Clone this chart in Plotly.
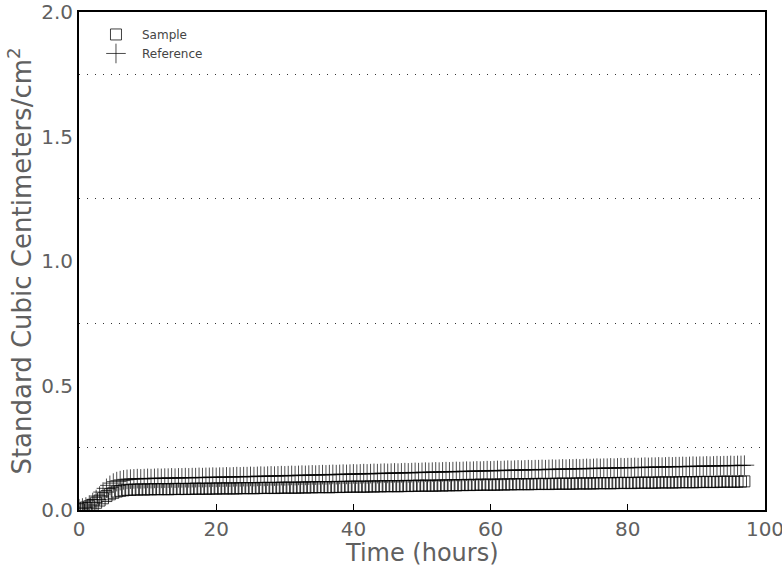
import plotly.graph_objects as go

# Time (hours), sampled every half hour
time_h = [
    0, 0.5, 1, 1.5, 2, 2.5, 3, 3.5, 4, 4.5, 5, 5.5, 6, 6.5, 7, 7.5, 8, 8.5, 9, 9.5,
    10, 10.5, 11, 11.5, 12, 12.5, 13, 13.5, 14, 14.5, 15, 15.5, 16, 16.5, 17, 17.5, 18, 18.5, 19, 19.5,
    20, 20.5, 21, 21.5, 22, 22.5, 23, 23.5, 24, 24.5, 25, 25.5, 26, 26.5, 27, 27.5, 28, 28.5, 29, 29.5,
    30, 30.5, 31, 31.5, 32, 32.5, 33, 33.5, 34, 34.5, 35, 35.5, 36, 36.5, 37, 37.5, 38, 38.5, 39, 39.5,
    40, 40.5, 41, 41.5, 42, 42.5, 43, 43.5, 44, 44.5, 45, 45.5, 46, 46.5, 47, 47.5, 48, 48.5, 49, 49.5,
    50, 50.5, 51, 51.5, 52, 52.5, 53, 53.5, 54, 54.5, 55, 55.5, 56, 56.5, 57, 57.5, 58, 58.5, 59, 59.5,
    60, 60.5, 61, 61.5, 62, 62.5, 63, 63.5, 64, 64.5, 65, 65.5, 66, 66.5, 67, 67.5, 68, 68.5, 69, 69.5,
    70, 70.5, 71, 71.5, 72, 72.5, 73, 73.5, 74, 74.5, 75, 75.5, 76, 76.5, 77, 77.5, 78, 78.5, 79, 79.5,
    80, 80.5, 81, 81.5, 82, 82.5, 83, 83.5, 84, 84.5, 85, 85.5, 86, 86.5, 87, 87.5, 88, 88.5, 89, 89.5,
    90, 90.5, 91, 91.5, 92, 92.5, 93, 93.5, 94, 94.5, 95, 95.5, 96, 96.5, 97,
]

sample = [
    0.003, 0.006, 0.010, 0.015, 0.021, 0.029, 0.038, 0.047, 0.056, 0.063,
    0.069, 0.074, 0.077, 0.079, 0.081, 0.081, 0.082, 0.082, 0.083, 0.082,
    0.083, 0.083, 0.084, 0.083, 0.084, 0.084, 0.083, 0.084, 0.085, 0.084,
    0.085, 0.084, 0.085, 0.085, 0.086, 0.085, 0.086, 0.085, 0.086, 0.086,
    0.086, 0.087, 0.086, 0.087, 0.087, 0.086, 0.087, 0.088, 0.087, 0.088,
    0.088, 0.087, 0.088, 0.089, 0.088, 0.089, 0.089, 0.088, 0.089, 0.090,
    0.089, 0.090, 0.090, 0.089, 0.090, 0.091, 0.090, 0.091, 0.091, 0.092,
    0.091, 0.092, 0.092, 0.091, 0.092, 0.093, 0.092, 0.093, 0.093, 0.094,
    0.093, 0.094, 0.094, 0.093, 0.094, 0.095, 0.094, 0.095, 0.095, 0.096,
    0.095, 0.096, 0.096, 0.095, 0.096, 0.097, 0.096, 0.097, 0.097, 0.098,
    0.097, 0.098, 0.098, 0.097, 0.098, 0.099, 0.098, 0.099, 0.099, 0.100,
    0.099, 0.100, 0.100, 0.101, 0.100, 0.101, 0.101, 0.102, 0.101, 0.102,
    0.102, 0.101, 0.102, 0.103, 0.102, 0.103, 0.103, 0.104, 0.103, 0.104,
    0.104, 0.103, 0.104, 0.105, 0.104, 0.105, 0.105, 0.104, 0.105, 0.106,
    0.105, 0.106, 0.106, 0.105, 0.106, 0.107, 0.106, 0.107, 0.107, 0.106,
    0.107, 0.108, 0.107, 0.108, 0.108, 0.107, 0.108, 0.109, 0.108, 0.109,
    0.109, 0.108, 0.109, 0.110, 0.109, 0.110, 0.110, 0.109, 0.110, 0.111,
    0.110, 0.111, 0.111, 0.110, 0.111, 0.112, 0.111, 0.112, 0.112, 0.111,
    0.112, 0.113, 0.112, 0.113, 0.113, 0.112, 0.113, 0.114, 0.113, 0.114,
    0.114, 0.113, 0.114, 0.114, 0.115,
]

reference = [
    0.005, 0.008, 0.012, 0.020, 0.030, 0.042, 0.056, 0.072, 0.087, 0.099,
    0.108, 0.114, 0.118, 0.121, 0.123, 0.124, 0.125, 0.126, 0.125, 0.126,
    0.127, 0.126, 0.127, 0.128, 0.127, 0.128, 0.128, 0.129, 0.128, 0.129,
    0.129, 0.130, 0.129, 0.130, 0.130, 0.131, 0.130, 0.131, 0.131, 0.132,
    0.131, 0.132, 0.132, 0.133, 0.132, 0.133, 0.134, 0.133, 0.134, 0.134,
    0.135, 0.134, 0.135, 0.136, 0.135, 0.136, 0.137, 0.136, 0.137, 0.138,
    0.137, 0.138, 0.139, 0.138, 0.139, 0.140, 0.139, 0.140, 0.141, 0.140,
    0.141, 0.142, 0.141, 0.142, 0.143, 0.142, 0.143, 0.144, 0.143, 0.144,
    0.145, 0.144, 0.145, 0.146, 0.145, 0.146, 0.147, 0.146, 0.147, 0.148,
    0.147, 0.148, 0.149, 0.148, 0.149, 0.150, 0.149, 0.150, 0.151, 0.150,
    0.151, 0.152, 0.151, 0.152, 0.153, 0.152, 0.153, 0.154, 0.153, 0.154,
    0.155, 0.154, 0.155, 0.156, 0.155, 0.156, 0.157, 0.156, 0.157, 0.158,
    0.157, 0.158, 0.159, 0.158, 0.159, 0.160, 0.159, 0.160, 0.161, 0.160,
    0.161, 0.162, 0.161, 0.162, 0.162, 0.163, 0.162, 0.163, 0.164, 0.163,
    0.164, 0.165, 0.164, 0.165, 0.165, 0.166, 0.165, 0.166, 0.167, 0.166,
    0.167, 0.168, 0.167, 0.168, 0.168, 0.169, 0.168, 0.169, 0.170, 0.169,
    0.170, 0.170, 0.171, 0.170, 0.171, 0.172, 0.171, 0.172, 0.172, 0.173,
    0.172, 0.173, 0.174, 0.173, 0.174, 0.174, 0.175, 0.174, 0.175, 0.176,
    0.175, 0.176, 0.176, 0.177, 0.176, 0.177, 0.178, 0.177, 0.178, 0.178,
    0.179, 0.178, 0.179, 0.179, 0.180,
]

x_ticks = [0, 20, 40, 60, 80, 100]
y_ticks = [0.0, 0.5, 1.0, 1.5, 2.0]
y_ticklabels = ["0.0", "0.5", "1.0", "1.5", "2.0"]
grid_levels = [0.25, 0.75, 1.25, 1.75]

TXT = "#606060"
FONT = "DejaVu Sans"

fig = go.Figure()
fig.add_trace(go.Scatter(
    x=time_h, y=sample, mode="markers", name="Sample",
    marker=dict(symbol="square-open", size=11, color="rgba(0,0,0,0.75)",
                line=dict(width=1, color="rgba(0,0,0,0.75)")),
))
fig.add_trace(go.Scatter(
    x=time_h, y=reference, mode="markers", name="Reference",
    marker=dict(symbol="cross-thin-open", size=14, color="rgba(0,0,0,0.7)",
                line=dict(width=1, color="rgba(0,0,0,0.7)")),
))

fig.add_annotation(
    text="Time (hours)", xref="paper", yref="paper", x=0.5, y=0,
    xanchor="center", yanchor="middle", yshift=-43, showarrow=False,
    font=dict(size=24, color=TXT, family=FONT),
)

fig.update_layout(
    width=782, height=571,
    margin=dict(l=79, r=17, t=12, b=61, autoexpand=False),
    paper_bgcolor="white", plot_bgcolor="white",
    font=dict(family=FONT, color=TXT),
    showlegend=True,
    legend=dict(x=0.016, y=0.984, xanchor="left", yanchor="top",
                bgcolor="rgba(0,0,0,0)", font=dict(size=12, color="#444"),
                itemwidth=42, tracegroupgap=0),
    xaxis=dict(
        range=[0, 100], tickvals=x_ticks, ticktext=[str(v) for v in x_ticks],
        showgrid=False, zeroline=False, automargin=False,
        ticklabeloverflow="allow",
        showline=True, linecolor="black", linewidth=2, mirror=True,
        ticks="inside", ticklen=6, tickcolor="black", tickwidth=1,
        tickfont=dict(size=20, color=TXT, family=FONT),
    ),
    yaxis=dict(
        range=[0, 2.0], tickvals=y_ticks, ticktext=y_ticklabels,
        showgrid=False, zeroline=False, automargin=False,
        ticklabeloverflow="allow",
        showline=True, linecolor="black", linewidth=2, mirror=True,
        ticks="",
        tickfont=dict(size=20, color=TXT, family=FONT),
        title=dict(text="Standard Cubic Centimeters/cm<sup>2</sup>",
                   font=dict(size=26, color=TXT, family=FONT), standoff=2),
        minor=dict(tickmode="array", tickvals=grid_levels, showgrid=True,
                   griddash="1px,7px", gridcolor="#333", gridwidth=1, ticks=""),
    ),
)

fig.write_html(
    "out.html",
    config={"displayModeBar": False},
    post_script="document.body.style.margin='0px';document.body.style.overflow='hidden';",
)
